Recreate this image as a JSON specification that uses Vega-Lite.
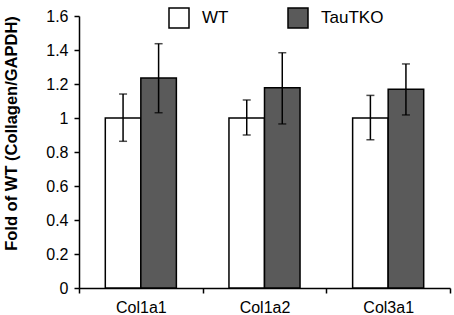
{
  "$schema": "https://vega.github.io/schema/vega-lite/v6.json",
  "width": 371,
  "height": 272,
  "autosize": {"type": "none"},
  "padding": {"left": 79, "top": 16, "right": 4, "bottom": 27},
  "background": "white",
  "config": {
    "view": {"stroke": null},
    "font": "Liberation Sans",
    "axis": {"grid": false, "domainColor": "black", "tickColor": "black", "labelColor": "black", "titleColor": "black", "domainWidth": 1.5, "tickWidth": 1.5, "labelFont": "Liberation Sans", "titleFont": "Liberation Sans"}
  },
  "data": {
    "values": [
      {"gene": "Col1a1", "group": "WT", "value": 1.0, "lo": 0.863, "hi": 1.141},
      {"gene": "Col1a1", "group": "TauTKO", "value": 1.235, "lo": 1.031, "hi": 1.437},
      {"gene": "Col1a2", "group": "WT", "value": 1.0, "lo": 0.9, "hi": 1.106},
      {"gene": "Col1a2", "group": "TauTKO", "value": 1.178, "lo": 0.965, "hi": 1.384},
      {"gene": "Col3a1", "group": "WT", "value": 1.0, "lo": 0.872, "hi": 1.133},
      {"gene": "Col3a1", "group": "TauTKO", "value": 1.169, "lo": 1.018, "hi": 1.318}
    ]
  },
  "encoding": {
    "x": {
      "field": "gene", "type": "nominal", "sort": ["Col1a1", "Col1a2", "Col3a1"],
      "scale": {"paddingInner": 0, "paddingOuter": 0},
      "axis": {"title": null, "labelAngle": 0, "labelFontSize": 16, "labelPadding": 6, "tickBand": "extent", "tickSize": 5}
    },
    "xOffset": {
      "field": "group", "type": "nominal", "sort": ["WT", "TauTKO"],
      "scale": {"paddingOuter": 0.74, "paddingInner": 0}
    }
  },
  "layer": [
    {
      "mark": {"type": "bar", "stroke": "black", "strokeWidth": 1.5},
      "encoding": {
        "y": {
          "field": "value", "type": "quantitative",
          "scale": {"domain": [0, 1.6], "nice": false},
          "axis": {"values": [0, 0.2, 0.4, 0.6, 0.8, 1, 1.2, 1.4, 1.6], "format": "~g", "labelOverlap": false, "labelFontSize": 16, "tickSize": 5, "labelPadding": 6, "title": "Fold of WT (Collagen/GAPDH)", "titleFontSize": 16.5, "titleFontWeight": "bold", "titleY": 117, "titleX": -63, "titleBaseline": "alphabetic", "titleAngle": -90}
        },
        "fill": {
          "field": "group", "type": "nominal",
          "scale": {"domain": ["WT", "TauTKO"], "range": ["white", "#5a5a5a"]},
          "legend": {"title": null, "orient": "none", "direction": "horizontal", "legendX": 89, "legendY": -9, "symbolType": "square", "symbolSize": 400, "symbolStrokeColor": "black", "symbolStrokeWidth": 1.5, "labelFontSize": 17, "labelColor": "black", "labelOffset": 12, "columnPadding": 56, "labelFont": "Liberation Sans"}
        }
      }
    },
    {
      "mark": {"type": "rule", "color": "black", "strokeWidth": 1.5},
      "encoding": {
        "y": {"field": "lo", "type": "quantitative",
          "axis": {"values": [0, 0.2, 0.4, 0.6, 0.8, 1, 1.2, 1.4, 1.6], "format": "~g", "labelOverlap": false, "labelFontSize": 16, "tickSize": 5, "labelPadding": 6, "title": "Fold of WT (Collagen/GAPDH)", "titleFontSize": 16.5, "titleFontWeight": "bold", "titleY": 117, "titleX": -63, "titleBaseline": "alphabetic", "titleAngle": -90}},
        "y2": {"field": "hi"}
      }
    },
    {
      "mark": {"type": "tick", "color": "black", "thickness": 1.5, "size": 8, "orient": "horizontal"},
      "encoding": {"y": {"field": "hi", "type": "quantitative",
          "axis": {"values": [0, 0.2, 0.4, 0.6, 0.8, 1, 1.2, 1.4, 1.6], "format": "~g", "labelOverlap": false, "labelFontSize": 16, "tickSize": 5, "labelPadding": 6, "title": "Fold of WT (Collagen/GAPDH)", "titleFontSize": 16.5, "titleFontWeight": "bold", "titleY": 117, "titleX": -63, "titleBaseline": "alphabetic", "titleAngle": -90}}}
    },
    {
      "mark": {"type": "tick", "color": "black", "thickness": 1.5, "size": 8, "orient": "horizontal"},
      "encoding": {"y": {"field": "lo", "type": "quantitative",
          "axis": {"values": [0, 0.2, 0.4, 0.6, 0.8, 1, 1.2, 1.4, 1.6], "format": "~g", "labelOverlap": false, "labelFontSize": 16, "tickSize": 5, "labelPadding": 6, "title": "Fold of WT (Collagen/GAPDH)", "titleFontSize": 16.5, "titleFontWeight": "bold", "titleY": 117, "titleX": -63, "titleBaseline": "alphabetic", "titleAngle": -90}}}
    }
  ]
}
